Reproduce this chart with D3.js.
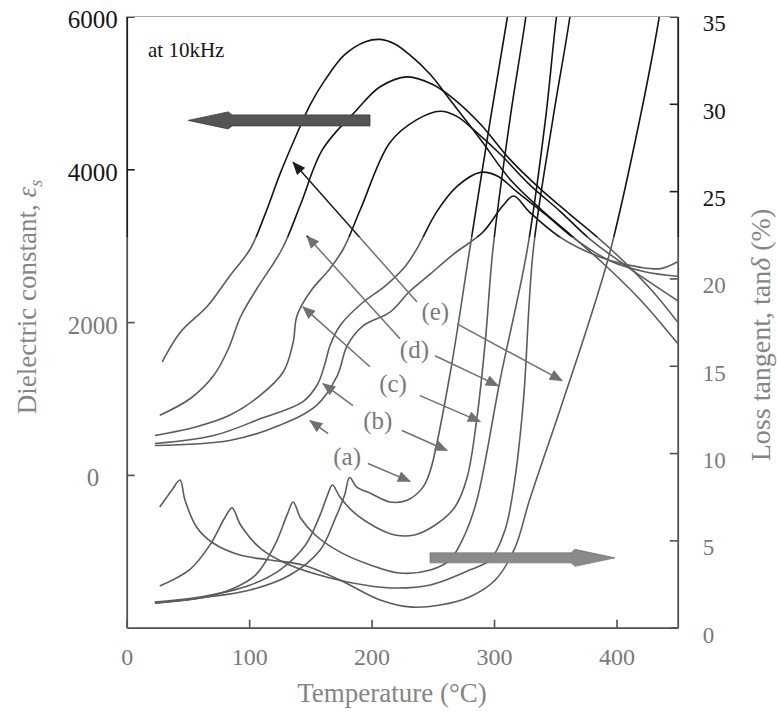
<!DOCTYPE html>
<html>
<head>
<meta charset="utf-8">
<title>Dielectric constant and loss tangent vs temperature</title>
<script src="https://cdn.jsdelivr.net/npm/d3@7/dist/d3.min.js"></script>
<style>
  html, body { margin: 0; padding: 0; background: #fff; }
  svg { display: block; }
  svg text { font-family: "Liberation Serif", "DejaVu Serif", serif; }
</style>
</head>
<body>
<svg id="chart" width="777" height="715"></svg>
<script>
// ---------- data ----------
const samples = ["(a)", "(b)", "(c)", "(d)", "(e)"];
const tempTicks = [0, 100, 200, 300, 400];
const epsTicks = [0, 2000, 4000, 6000];
const tanTicks = [0, 5, 10, 15, 20, 25, 30, 35];

// dielectric constant εs at 10 kHz : [temperature (°C), εs]
const epsA = [[23,385],[84,450],[125,650],[155,910],[172,1300],[180,1690],[193,1950],[215,2130],[231,2400],[248,2630],[267,2890],[291,3180],[307,3520],[316,3650],[329,3440],[354,3110],[387,2850],[419,2720],[436,2700],[450,2790]];
const epsB = [[23,410],[71,515],[110,740],[144,960],[156,1190],[162,1460],[166,1690],[174,1950],[193,2260],[211,2470],[227,2720],[237,2960],[253,3440],[270,3780],[289,3960],[303,3910],[319,3700],[342,3410],[366,3090],[395,2800],[423,2660],[450,2600]];
const epsC = [[23,515],[57,630],[84,780],[109,1040],[128,1350],[136,1740],[139,2080],[150,2400],[166,2700],[177,2960],[191,3480],[215,4350],[237,4650],[256,4760],[270,4690],[286,4480],[305,4200],[329,3800],[354,3450],[378,3090],[411,2700],[450,2280]];
const epsD = [[27,780],[52,1000],[71,1300],[83,1650],[93,2070],[106,2430],[127,2960],[142,3540],[160,4260],[188,4780],[207,5080],[229,5210],[250,5110],[268,4910],[289,4590],[313,4130],[338,3740],[362,3410],[395,2960],[428,2430],[450,2000]];
const epsE = [[29,1480],[44,1870],[66,2210],[84,2600],[101,2960],[113,3410],[125,3930],[137,4390],[150,4850],[162,5170],[178,5500],[195,5670],[207,5700],[219,5640],[231,5500],[248,5240],[264,4910],[289,4390],[313,3870],[338,3480],[362,3150],[387,2800],[419,2300],[450,1720]];

// loss tangent tanδ (%) at 10 kHz : [temperature (°C), tanδ]
const tanA = [[23,1.4],[60,1.7],[101,2.16],[133,3.0],[158,4.45],[170,6.2],[178,7.6],[182,8.6],[188,8.05],[199,7.7],[215,7.2],[229,7.3],[242,8.05],[248,9.0],[264,14.5],[280,21.6],[297,29.1],[311,35],[321,39.4]];
const tanB = [[23,1.47],[60,1.76],[101,2.45],[125,3.3],[146,4.74],[158,6.46],[164,7.6],[168,8.17],[174,7.5],[186,6.57],[203,5.77],[219,5.31],[235,5.31],[252,5.88],[268,6.9],[278,8.6],[286,12],[293,16.5],[299,21.6],[313,29.1],[326,35],[334,39.4]];
const tanC = [[23,1.41],[60,1.7],[84,2.16],[105,3.0],[121,4.74],[131,6.46],[136,7.2],[142,6.28],[154,5.31],[174,4.34],[199,3.59],[223,3.13],[248,3.3],[264,3.88],[276,5.31],[286,7.31],[305,14.2],[327,21.6],[342,29.1],[351,35],[360,39.4]];
const tanD = [[27,2.39],[52,3.36],[68,4.74],[80,6.28],[86,6.86],[93,5.88],[109,4.56],[133,3.59],[166,2.85],[199,2.39],[221,2.27],[248,2.45],[280,3.3],[297,3.9],[309,5.6],[317,8.5],[324,13.0],[332,21.6],[348,29.1],[362,35],[370,39.4]];
const tanE = [[27,6.91],[37,7.89],[43.5,8.46],[47.6,7.31],[57,5.77],[70.5,4.85],[92.5,4.16],[117,3.88],[144,3.59],[174,2.73],[207,1.59],[231,1.19],[256,1.3],[280,1.76],[301,2.73],[317,4.56],[329,7.31],[354,12.5],[378,17.6],[395,21.6],[419,29.1],[435,35],[444,39.4]];

// sample labels and pointer arrows, in (temperature, εs) units
const labelPos    = [[180,241],[205,711],[217.5,1194],[235,1651],[252,2147]];
const arrowsToEps = [[164.5,541,149.7,711],[184.8,907,160.3,1194],[198.7,1416,144,2199],[223.2,1781,147.2,3126],[237.1,2264,135.9,4091]];
const arrowsToTan = [[197,150,231.4,-85],[224.8,581,261.6,320],[239.5,1037,288.6,698],[251.8,1559,303.3,1168],[269.8,1977,355.5,1233]];
// block arrows marking which axis each family belongs to
const epsAxisArrow = [198.7, 50.2, 4640];   // from T, to T, at εs
const tanAxisArrow = [247.7, 398.8, 4.0];   // from T, to T, at tanδ

const epsSeries = [epsA, epsB, epsC, epsD, epsE];
const tanSeries = [tanA, tanB, tanC, tanD, tanE];

// ---------- layout ----------
const W = 777, H = 715;
const serif = '"Liberation Serif", "DejaVu Serif", serif';
const x  = d3.scaleLinear().domain([0, 450]).range([126.7, 677.7]);
const yL = d3.scaleLinear().domain([-2000, 6000]).range([627.7, 16.5]);
const yR = d3.scaleLinear().domain([0, 35]).range([627.7, 16.5]);
const inkSplit = 237;   // the upper band of the print is darker

const svg = d3.select("#chart");
const defs = svg.append("defs");
defs.append("clipPath").attr("id", "plotClip").append("rect")
  .attr("x", x.range()[0]).attr("y", yL.range()[1])
  .attr("width", x.range()[1] - x.range()[0]).attr("height", yL.range()[0] - yL.range()[1]);
defs.append("clipPath").attr("id", "upperClip").append("rect")
  .attr("x", 0).attr("y", 0).attr("width", W).attr("height", inkSplit);
defs.append("clipPath").attr("id", "lowerClip").append("rect")
  .attr("x", 0).attr("y", inkSplit).attr("width", W).attr("height", H - inkSplit);

const palettes = {
  low:  { id: "low",  curve: "#5c5c5c", axis: "#505050", text: "#7a7a7a", arrow: "#707070" },
  high: { id: "high", curve: "#141414", axis: "#1c1c1c", text: "#161616", arrow: "#1c1c1c" }
};
Object.values(palettes).forEach(p => {
  defs.append("marker").attr("id", "head-" + p.id)
    .attr("viewBox", "0 0 12 10").attr("refX", 11).attr("refY", 5)
    .attr("markerUnits", "userSpaceOnUse").attr("markerWidth", 14).attr("markerHeight", 11)
    .attr("orient", "auto")
    .append("path").attr("d", "M0,0 L12,5 L0,10 Z").attr("fill", p.arrow);
});

const lineEps = d3.line().x(d => x(d[0])).y(d => yL(d[1])).curve(d3.curveCatmullRom.alpha(0.5));
const lineTan = d3.line().x(d => x(d[0])).y(d => yR(d[1])).curve(d3.curveCatmullRom.alpha(0.5));

function drawLayer(root, p) {
  // curves
  const plot = root.append("g").attr("clip-path", "url(#plotClip)");
  plot.selectAll("path.eps").data(epsSeries).join("path")
    .attr("class", "eps").attr("d", lineEps)
    .attr("fill", "none").attr("stroke", p.curve).attr("stroke-width", 1.6);
  plot.selectAll("path.tan").data(tanSeries).join("path")
    .attr("class", "tan").attr("d", lineTan)
    .attr("fill", "none").attr("stroke", p.curve).attr("stroke-width", 1.6);

  // axes
  const gL = root.append("g").attr("transform", `translate(${x.range()[0]},0)`)
    .call(d3.axisLeft(yL).tickValues(epsTicks).tickSizeInner(-8).tickSizeOuter(0).tickPadding(9).tickFormat(d3.format("d")));
  gL.selectAll("text").attr("y", 3).attr("font-size", 25)
    .filter(d => d === 0).attr("text-anchor", "middle").attr("x", 93 - x.range()[0]);

  const gR = root.append("g").attr("transform", `translate(${x.range()[1]},0)`)
    .call(d3.axisRight(yR).tickValues(tanTicks).tickSizeInner(-8).tickSizeOuter(0).tickPadding(25));
  gR.selectAll("text").attr("y", 7).attr("font-size", 23);

  const gB = root.append("g").attr("transform", `translate(0,${yL.range()[0]})`)
    .call(d3.axisBottom(x).tickValues(tempTicks).tickSizeInner(-8).tickSizeOuter(0).tickPadding(20));
  gB.selectAll("text").attr("font-size", 24);

  [gL, gR, gB].forEach(g => {
    g.attr("font-family", serif);
    g.select(".domain").attr("stroke", p.axis).attr("stroke-width", 1.8);
    g.selectAll(".tick line").attr("stroke", p.axis).attr("stroke-width", 1.6);
    g.selectAll(".tick text").attr("fill", p.text).attr("font-family", serif);
  });

  // pointer arrows and sample labels
  const ann = root.append("g");
  ann.selectAll("line.toEps").data(arrowsToEps).join("line").attr("class", "toEps")
    .attr("x1", d => x(d[0])).attr("y1", d => yL(d[1]))
    .attr("x2", d => x(d[2])).attr("y2", d => yL(d[3]))
    .attr("stroke", p.arrow).attr("stroke-width", 1.5).attr("marker-end", `url(#head-${p.id})`);
  ann.selectAll("line.toTan").data(arrowsToTan).join("line").attr("class", "toTan")
    .attr("x1", d => x(d[0])).attr("y1", d => yL(d[1]))
    .attr("x2", d => x(d[2])).attr("y2", d => yL(d[3]))
    .attr("stroke", p.arrow).attr("stroke-width", 1.5).attr("marker-end", `url(#head-${p.id})`);
  ann.selectAll("text.lab").data(samples).join("text").attr("class", "lab")
    .attr("x", (d, i) => x(labelPos[i][0])).attr("y", (d, i) => yL(labelPos[i][1]))
    .attr("dy", "0.35em").attr("text-anchor", "middle").attr("font-family", serif)
    .attr("font-size", 25).attr("fill", p.text).text(d => d);

  root.append("text").attr("x", x(17.4)).attr("y", yL(5475)).attr("font-family", serif)
    .attr("font-size", 21).attr("fill", p.text).text("at 10kHz");
}

// same drawing twice: grey below the split, near-black above it
drawLayer(svg.append("g").attr("clip-path", "url(#lowerClip)"), palettes.low);
drawLayer(svg.append("g").attr("clip-path", "url(#upperClip)"), palettes.high);

// top frame line (printed faint)
svg.append("line")
  .attr("x1", x.range()[0]).attr("x2", x.range()[1])
  .attr("y1", yL.range()[1]).attr("y2", yL.range()[1])
  .attr("stroke", "#a8a8a8").attr("stroke-width", 1.2);

// block arrows
function blockArrow(x0, x1, y, shaft, head, headLen) {
  const dir = Math.sign(x1 - x0);
  const xb = x1 - dir * headLen;
  return `M${x0},${y - shaft / 2} L${xb},${y - shaft / 2} L${xb + dir * 4},${y - head / 2} L${x1},${y} ` +
         `L${xb + dir * 4},${y + head / 2} L${xb},${y + shaft / 2} L${x0},${y + shaft / 2} Z`;
}
svg.append("path")
  .attr("d", blockArrow(x(epsAxisArrow[0]), x(epsAxisArrow[1]), yL(epsAxisArrow[2]), 11, 17, 44))
  .attr("fill", "#555").attr("stroke", "#3a3a3a").attr("stroke-width", 0.8);
svg.append("path")
  .attr("d", blockArrow(x(tanAxisArrow[0]), x(tanAxisArrow[1]), yR(tanAxisArrow[2]), 10, 17, 44))
  .attr("fill", "#8a8a8a").attr("stroke", "#7a7a7a").attr("stroke-width", 0.8);

// axis titles
const tL = svg.append("text")
  .attr("transform", "translate(36,297) rotate(-90)").attr("font-family", serif)
  .attr("text-anchor", "middle").attr("font-size", 27).attr("fill", "#858585");
tL.append("tspan").text("Dielectric constant, ");
tL.append("tspan").attr("font-style", "italic").text("ε");
tL.append("tspan").attr("font-size", 18).attr("dy", 6).attr("font-style", "italic").text("s");

const tR = svg.append("text")
  .attr("transform", "translate(770,335) rotate(-90)").attr("font-family", serif)
  .attr("text-anchor", "middle").attr("font-size", 28).attr("fill", "#858585");
tR.append("tspan").text("Loss tangent, tan");
tR.append("tspan").attr("font-style", "italic").text("δ");
tR.append("tspan").text(" (%)");

svg.append("text").attr("font-family", serif)
  .attr("x", 392).attr("y", 702)
  .attr("text-anchor", "middle").attr("font-size", 27).attr("fill", "#858585")
  .text("Temperature (°C)");
</script>
</body>
</html>
